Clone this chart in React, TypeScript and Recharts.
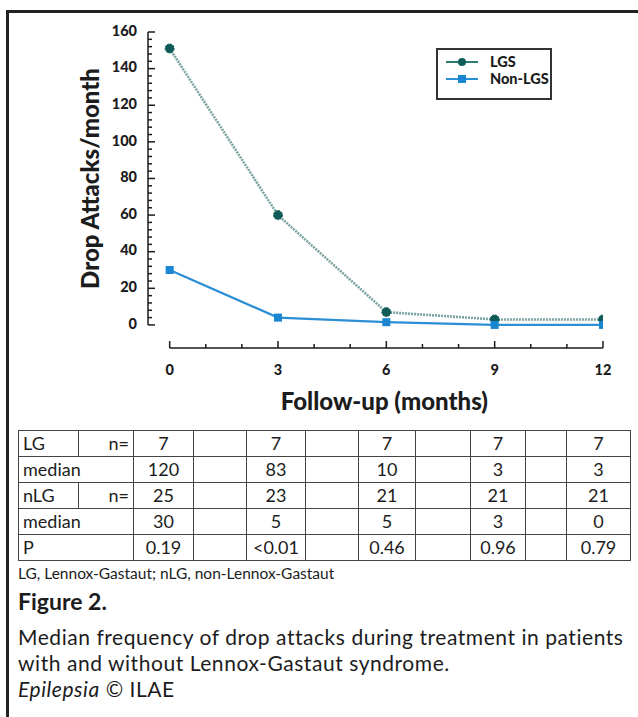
import { LineChart, Line, XAxis, YAxis, ReferenceLine, Legend, Label } from 'recharts';

// follow-up months and medians
const months = [0, 3, 6, 9, 12];
const lgsAttacks = [151, 60, 7, 3, 3];
const nonLgsAttacks = [30, 4, 1.5, 0, 0];

const xTicks = [0, 1, 2, 3, 4, 5, 6, 7, 8, 9, 10, 11, 12];
const yTicks = [
  0, 4, 8, 12, 16, 20, 24, 28, 32, 36, 40, 44, 48, 52, 56, 60, 64, 68, 72, 76, 80,
  84, 88, 92, 96, 100, 104, 108, 112, 116, 120, 124, 128, 132, 136, 140, 144, 148,
  152, 156, 160,
];

// table under the chart
const lgN = ['7', '7', '7', '7', '7'];
const lgMedian = ['120', '83', '10', '3', '3'];
const nlgN = ['25', '23', '21', '21', '21'];
const nlgMedian = ['30', '5', '5', '3', '0'];
const pValues = ['0.19', '<0.01', '0.46', '0.96', '0.79'];

const X_MIN = -0.6;
const Y_MIN = -12.6;
const LGS_LINE = '#7ba3a1';
const LGS_DOT = '#0f5b58';
const NON_LINE = '#2b8fd6';
const NON_DOT = '#1a86d2';
const INK = '#1c1c1c';
const FONT = 'Lato, "Open Sans", sans-serif';

const data = months.map((m, i) => ({ month: m, lgs: lgsAttacks[i], nonLgs: nonLgsAttacks[i] }));

function XTick({ x, y, payload }: any) {
  const major = payload.value % 3 === 0;
  return (
    <g>
      <line x1={x} x2={x} y1={y} y2={y - (major ? 7 : 4)} stroke={INK} strokeWidth={1.5} />
      {major && (
        <text x={x} y={y + 23} textAnchor="middle" dominantBaseline="middle"
          fontSize={14.5} fontWeight={900} fill={INK} fontFamily={FONT}>
          {payload.value}
        </text>
      )}
    </g>
  );
}

function YTick({ x, y, payload }: any) {
  const major = payload.value % 20 === 0;
  return (
    <g>
      <line x1={x} x2={x + (major ? 7 : 4)} y1={y} y2={y} stroke={INK} strokeWidth={1.5} />
      {major && (
        <text x={x - 11} y={y} textAnchor="end" dominantBaseline="middle"
          fontSize={14.5} fontWeight={900} fill={INK} fontFamily={FONT}>
          {payload.value}
        </text>
      )}
    </g>
  );
}

function SquareDot({ cx, cy, index }: any) {
  if (cx == null || cy == null) return null;
  return <rect key={`sq-${index}`} x={cx - 4} y={cy - 4} width={8} height={8} fill={NON_DOT} />;
}

function LegendBox() {
  const rows = [
    { name: 'LGS', line: '#2f7a74', dot: LGS_DOT, square: false },
    { name: 'Non-LGS', line: NON_LINE, dot: NON_DOT, square: true },
  ];
  return (
    <div style={{ border: '2px solid #333', width: 112, height: 45, padding: '3px 0 0 0', boxSizing: 'content-box', background: '#fff' }}>
      {rows.map((r) => (
        <div key={r.name} style={{ display: 'flex', alignItems: 'center', height: 17 }}>
          <svg width={46} height={12} style={{ marginLeft: 6 }}>
            <line x1={2} x2={34} y1={6} y2={6} stroke={r.line} strokeWidth={2} />
            {r.square ? (
              <rect x={14} y={2} width={8} height={8} fill={r.dot} />
            ) : (
              <circle cx={18} cy={6} r={4} fill={r.dot} />
            )}
          </svg>
          <span style={{ fontFamily: FONT, fontWeight: 900, fontSize: 14.5, color: INK }}>{r.name}</span>
        </div>
      ))}
    </div>
  );
}

const colWidths = [60, 55, 60, 53, 59, 53, 57, 55, 55, 41, 64];
const cell = { border: '1.5px solid #444', padding: '0 4px', height: 25, fontSize: 18, lineHeight: '25px' } as const;

function TableRow({ label, sub, values }: { label: string; sub?: string; values: string[] }) {
  return (
    <tr>
      {sub ? (
        <>
          <td style={{ ...cell, textAlign: 'left' }}>{label}</td>
          <td style={{ ...cell, textAlign: 'right' }}>{sub}</td>
        </>
      ) : (
        <td colSpan={2} style={{ ...cell, textAlign: 'left' }}>{label}</td>
      )}
      {values.map((v, i) => (
        <>
          <td key={`v${i}`} style={{ ...cell, textAlign: 'center' }}>{v}</td>
          {i < values.length - 1 && <td key={`b${i}`} style={cell} />}
        </>
      ))}
    </tr>
  );
}

export default function App() {
  return (
    <div style={{ position: 'absolute', left: 0, top: 0, width: 638, height: 717, background: '#fff', overflow: 'hidden', fontFamily: FONT, color: INK }}>
      <div style={{ position: 'absolute', left: 6, top: 10, width: 700, height: 800, borderTop: '3px solid #222', borderLeft: '3px solid #222' }} />

      <div style={{ position: 'absolute', left: 0, top: 0 }}>
        <LineChart width={638} height={420} data={data} margin={{ top: 32, right: 35, bottom: 12, left: 88 }}>
          <XAxis
            dataKey="month"
            type="number"
            domain={[X_MIN, 12]}
            ticks={xTicks}
            interval={0}
            allowDataOverflow
            axisLine={false}
            tickLine={false}
            tickSize={0}
            tickMargin={0}
            height={60}
            tick={<XTick />}
          >
            <Label
              content={({ viewBox }: any) => (
                <text x={viewBox.x + viewBox.width * ((6 - X_MIN) / (12 - X_MIN)) - 2} y={viewBox.y + 56}
                  textAnchor="middle" dominantBaseline="middle" fontSize={24} fontWeight={900}
                  fill={INK} fontFamily={FONT}>
                  Follow-up (months)
                </text>
              )}
            />
          </XAxis>
          <YAxis
            type="number"
            domain={[Y_MIN, 160]}
            ticks={yTicks}
            interval={0}
            allowDataOverflow
            axisLine={false}
            tickLine={false}
            tickSize={0}
            tickMargin={0}
            width={60}
            tick={<YTick />}
          >
            <Label
              content={({ viewBox }: any) => {
                const cx = viewBox.x + 5;
                const cy = viewBox.y + viewBox.height * ((160 - 80) / (160 - Y_MIN));
                return (
                  <text x={cx} y={cy} transform={`rotate(-90 ${cx} ${cy})`} textAnchor="middle"
                    dominantBaseline="middle" fontSize={24} fontWeight={900} fill={INK} fontFamily={FONT}>
                    Drop Attacks/month
                  </text>
                );
              }}
            />
          </YAxis>
          <ReferenceLine segment={[{ x: 0, y: Y_MIN }, { x: 12, y: Y_MIN }]} stroke={INK} strokeWidth={1.5} ifOverflow="visible" />
          <ReferenceLine segment={[{ x: X_MIN, y: 0 }, { x: X_MIN, y: 160 }]} stroke={INK} strokeWidth={1.5} ifOverflow="visible" />
          <Legend
            layout="vertical"
            align="center"
            verticalAlign="middle"
            content={() => <LegendBox />}
            wrapperStyle={{ left: 436, top: 48, width: 116 }}
          />
          <Line
            dataKey="lgs"
            name="LGS"
            stroke={LGS_LINE}
            strokeWidth={2.6}
            strokeDasharray="2 1"
            dot={{ r: 4.5, fill: LGS_DOT, stroke: LGS_DOT, strokeWidth: 1 }}
            isAnimationActive={false}
          />
          <Line
            dataKey="nonLgs"
            name="Non-LGS"
            stroke={NON_LINE}
            strokeWidth={2.2}
            dot={<SquareDot />}
            isAnimationActive={false}
          />
        </LineChart>
      </div>

      <table style={{ position: 'absolute', left: 18, top: 430, width: 612, borderCollapse: 'collapse', tableLayout: 'fixed', fontFamily: FONT, color: INK }}>
        <colgroup>
          {colWidths.map((w, i) => <col key={i} style={{ width: w }} />)}
        </colgroup>
        <tbody>
          <TableRow label="LG" sub="n=" values={lgN} />
          <TableRow label="median" values={lgMedian} />
          <TableRow label="nLG" sub="n=" values={nlgN} />
          <TableRow label="median" values={nlgMedian} />
          <TableRow label="P" values={pValues} />
        </tbody>
      </table>

      <div style={{ position: 'absolute', left: 18, top: 563, fontSize: 15.5, lineHeight: '20px' }}>
        LG, Lennox-Gastaut; nLG, non-Lennox-Gastaut
      </div>
      <div style={{ position: 'absolute', left: 18, top: 588, fontSize: 23, fontWeight: 700, lineHeight: '26px' }}>
        Figure 2.
      </div>
      <div style={{ position: 'absolute', left: 18, top: 624, width: 630, fontSize: 21, letterSpacing: 0.55, lineHeight: '26px', whiteSpace: 'nowrap' }}>
        <div>Median frequency of drop attacks during treatment in patients</div>
        <div>with and without Lennox-Gastaut syndrome.</div>
        <div><i>Epilepsia</i> © ILAE</div>
      </div>
    </div>
  );
}
